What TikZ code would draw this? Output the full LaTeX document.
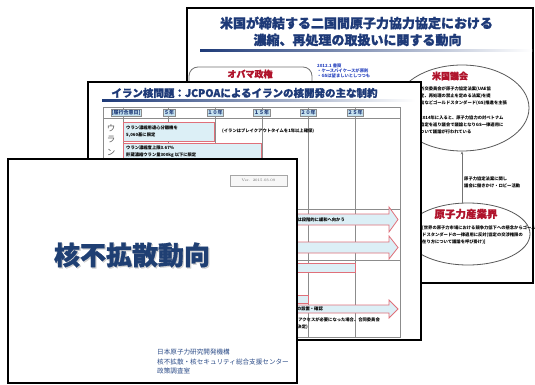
\documentclass[tikz,border=0pt]{standalone}
\usepackage{fontspec}
\newfontfamily\jp{Noto Sans CJK JP}
\newfontfamily\jph[BoldFeatures={FakeBold=1.2}]{Noto Sans CJK JP}
\usetikzlibrary{shapes.geometric,arrows.meta}
\definecolor{navy}{HTML}{1E3A78}
\definecolor{titleblue}{HTML}{1F3F73}
\definecolor{darkred}{HTML}{B0142C}
\definecolor{boxfill}{HTML}{DCEFF6}
\definecolor{boxedge}{HTML}{E0707A}
\definecolor{hdrfill}{HTML}{C6E2EF}
\definecolor{orgblue}{HTML}{2C4C88}
\definecolor{gridgray}{HTML}{8C8C8C}
\definecolor{linkblue}{HTML}{2A45C0}
\tikzset{
  slide/.style={draw=black, line width=2pt, fill=white},
  tinytext/.style={font=\jp\bfseries\fontsize{4.3}{5}\selectfont, inner sep=0pt, anchor=west, text=black},
  redtitle/.style={font=\jph\bfseries\fontsize{9}{10}\selectfont, text=darkred, inner sep=0pt},
  bluebox/.style={draw=boxedge, fill=boxfill, line width=0.8pt},
  hdr/.style={draw=gridgray, fill=hdrfill, line width=0.4pt, font=\jp\bfseries\fontsize{5}{6}\selectfont, text=navy, inner sep=0.8pt, minimum height=7pt},
  gridline/.style={draw=gridgray, line width=0.6pt},
  oval/.style={ellipse, draw=black!65, line width=0.8pt, inner sep=0pt},
}
\begin{document}
\begin{tikzpicture}[x=1pt,y=-1pt]
\useasboundingbox (0,0) rectangle (535,385);

% ---------- back slide ----------
\draw[slide, line width=1.8pt] (187,8) rectangle (533,283);
\node[font=\jph\bfseries\fontsize{13}{14}\selectfont, text=navy, inner sep=0pt] (bt1) at (356.5,23) {米国が締結する二国間原子力協力協定における};
\node[font=\jph\bfseries\fontsize{13}{14}\selectfont, text=navy, inner sep=0pt] (bt2) at (357.5,40) {濃縮、再処理の取扱いに関する動向};
\shade[left color=navy, right color=white] (200,49.5) rectangle (532,51.5);
\draw[draw=black!55, line width=0.8pt, rounded corners=9pt] (189,67) rectangle (312,170);
\node[redtitle] (obama) at (250,74) {オバマ政権};
\node[tinytext, text=linkblue] (l1) at (317,66) {2012.1 書簡};
\node[tinytext, text=linkblue] (l2) at (317,71) {・ケースバイケースが原則};
\node[tinytext, text=linkblue] (l3) at (317,76) {・GSは望ましいとしつつも};
\node[oval, minimum width=134pt, minimum height=86pt] (congress) at (462,108) {};
\node[redtitle] (ct) at (450,76) {米国議会};
\node[tinytext] (c1) at (420,89) {外交委員会が原子力協定法案(UAE協};
\node[tinytext] (c2) at (420,96) {定、再処理の禁止を定める法案)を提};
\node[tinytext] (c3) at (420,103) {出などゴールドスタンダード(GS)推進を主張};
\node[tinytext] (c4) at (420,118) {2014年に入ると、原子力協力の対ベトナム};
\node[tinytext] (c5) at (420,125) {協定を巡り議会で議論となりGS一律適用に};
\node[tinytext] (c6) at (420,132) {ついて議論が行われている};
\node[oval, minimum width=124pt, minimum height=62pt] (industry) at (468,234) {};
\node[redtitle, font=\jph\bfseries\fontsize{10.5}{11}\selectfont] (it) at (466,214) {原子力産業界};
\node[tinytext] (i1) at (422,228) {[世界の原子力市場における競争力低下への懸念からゴール};
\node[tinytext] (i2) at (422,235) {ドスタンダードの一律適用に反対(協定の交渉権限の};
\node[tinytext] (i3) at (422,242) {在り方について議論を呼び掛け)]};
\draw[-{Stealth[length=3pt,width=2.5pt]}, draw=black!55, line width=0.8pt] (industry.north -| congress.south) -- (congress.south);
\node[tinytext] (a1) at (464,179) {原子力協定法案に関し};
\node[tinytext] (a2) at (464,186) {議会に働きかけ・ロビー活動};

% ---------- middle slide ----------
\draw[slide] (88,82) rectangle (421,340);
\node[font=\jph\bfseries\fontsize{10.5}{11}\selectfont, text=navy, inner sep=0pt] (mt) at (244.5,93) {イラン核問題：JCPOAによるイランの核開発の主な制約};
\shade[left color=navy, right color=white] (102,100) rectangle (415,102);
\draw[gridline] (103,107) rectangle (400,337);
\draw[gridline] (103,118) -- (400,118);
\foreach \xx in {123,168,215,262,308,355} \draw[gridline] (\xx,107) -- (\xx,337);
\draw[gridline] (103,209) -- (400,209);
\draw[gridline] (103,260) -- (400,260);
\node[hdr] (h0) at (126,112.5) {[履行合意日]};
\node[hdr] (h5) at (169,112.5) {５年};
\node[hdr] (h10) at (215,112.5) {１０年};
\node[hdr] (h15) at (261.5,112.5) {１５年};
\node[hdr] (h20) at (308,112.5) {２０年};
\node[hdr] (h25) at (355,112.5) {２５年};
\node[font=\jp\fontsize{8.5}{10}\selectfont, text=black!65, inner sep=0pt] (u1) at (111,128) {ウ};
\node[font=\jp\fontsize{8.5}{10}\selectfont, text=black!65, inner sep=0pt] (u2) at (111,140) {ラ};
\node[font=\jp\fontsize{8.5}{10}\selectfont, text=black!65, inner sep=0pt] (u3) at (111,152) {ン};
\draw[bluebox] (123,122) rectangle (214,141);
\node[tinytext] (b1a) at (126,128) {ウラン濃縮用遠心分離機を};
\node[tinytext] (b1b) at (126,135) {5,060基に限定};
\node[tinytext] (b1c) at (222,131) {(イランはブレイクアウトタイムを1年以上確保)};
\draw[bluebox] (123,143) rectangle (261,175);
\node[tinytext] (b2a) at (126,148) {ウラン濃縮度上限3.67\%};
\node[tinytext] (b2b) at (126,155) {貯蔵濃縮ウラン量300kg 以下に限定};
\draw[bluebox] (250,214) -- (389,214) -- (389,207) -- (398,219.5) -- (389,232) -- (389,225) -- (250,225) -- cycle;
\node[tinytext, anchor=east] (ar1) at (345,219.5) {研究開発の制限は段階的に緩和へ向かう};
\draw[bluebox] (250,242) -- (389,242) -- (389,236) -- (398,247.5) -- (389,259) -- (389,253) -- (250,253) -- cycle;
\draw[bluebox] (250,263) rectangle (355,272);
\draw[bluebox] (250,295) rectangle (308,303);
\draw[bluebox] (250,305) -- (389,305) -- (389,300) -- (398,309) -- (389,318) -- (389,313) -- (250,313) -- cycle;
\node[tinytext, anchor=east] (ar5) at (323,309) {IAEAの監視装置の設置・確認};
\node[tinytext, anchor=east] (n1) at (380,320) {(IAEAのアクセスが必要になった場合、合同委員会};
\node[tinytext, anchor=east] (n2) at (308,327) {で決定)};

% ---------- front slide ----------
\draw[slide, line width=2.3pt] (8,159) rectangle (297,383);
\node[draw=black!35, fill=black!3, line width=0.6pt, minimum width=57pt, minimum height=11pt, inner sep=0pt, font=\fontsize{3.6}{4}\selectfont, text=black!60] (ver) at (258.5,180.5) {Ver. 2015.03.09};
\node[font=\jph\bfseries\fontsize{26}{28}\selectfont, text=black!18, inner sep=0pt] (shadow) at (133.2,256.2) {核不拡散動向};
\node[font=\jph\bfseries\fontsize{26}{28}\selectfont, text=titleblue, inner sep=0pt] (title) at (132,255) {核不拡散動向};
\node[font=\jp\fontsize{6.6}{7}\selectfont, text=orgblue, inner sep=0pt, anchor=west] (o1) at (157,352) {日本原子力研究開発機構};
\node[font=\jp\fontsize{6.6}{7}\selectfont, text=orgblue, inner sep=0pt, anchor=west] (o2) at (157,362) {核不拡散・核セキュリティ総合支援センター};
\node[font=\jp\fontsize{6.6}{7}\selectfont, text=orgblue, inner sep=0pt, anchor=west] (o3) at (157,371) {政策調査室};
\end{tikzpicture}
\end{document}
